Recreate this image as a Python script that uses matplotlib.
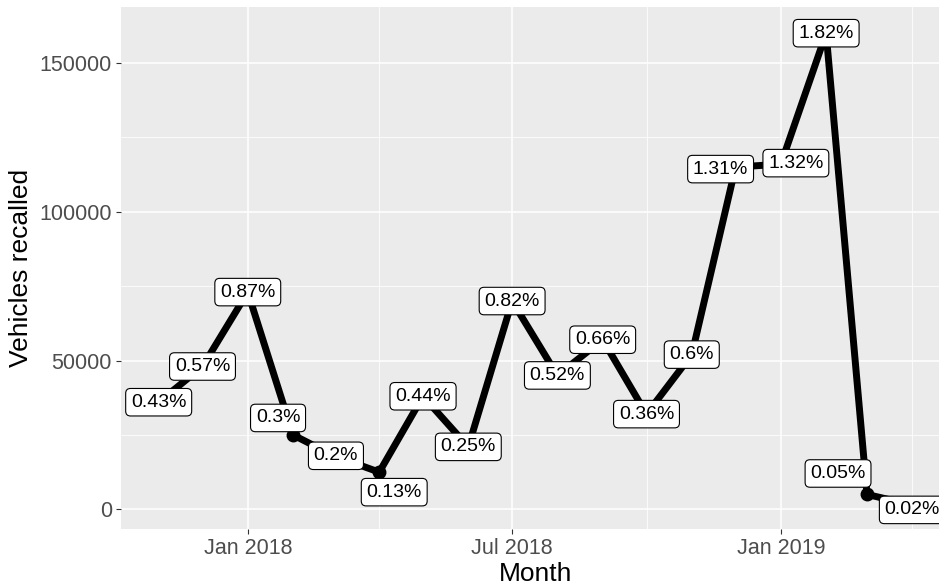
import datetime as dt
import matplotlib
matplotlib.use('Agg')
import matplotlib.pyplot as plt
import matplotlib.dates as mdates
import matplotlib.ticker as plticker

months = ['2017-11', '2017-12', '2018-01', '2018-02', '2018-03', '2018-04',
          '2018-05', '2018-06', '2018-07', '2018-08', '2018-09', '2018-10',
          '2018-11', '2018-12', '2019-01', '2019-02', '2019-03', '2019-04']
recalled = [36000, 48000, 73000, 25000, 18000, 12500,
            38000, 21000, 70000, 45000, 57000, 32000,
            52000, 115000, 116000, 160000, 5000, 1500]
pct_labels = ['0.43%', '0.57%', '0.87%', '0.3%', '0.2%', '0.13%',
              '0.44%', '0.25%', '0.82%', '0.52%', '0.66%', '0.36%',
              '0.6%', '1.31%', '1.32%', '1.82%', '0.05%', '0.02%']

# label nudges in pixels (where the labels got pushed off their point)
label_nudge = [(0, 0), (0, 0), (0, 0), (-15, 17), (2, 0), (15, -20),
               (0, 0), (0, 0), (0, 0), (0, 0), (0, 0), (0, 0),
               (0, 0), (-15, -2), (15, 1), (0, 0), (-29, 21), (0, -5)]

plt.rcParams['font.family'] = ['Liberation Sans', 'DejaVu Sans']

dates = [dt.datetime.strptime(m, '%Y-%m') for m in months]

W, H = 939, 587
fig = plt.figure(figsize=(W / 100, H / 100), dpi=100)
ax = fig.add_axes([121 / W, (H - 529) / H, (950 - 121) / W, (529 - 7) / H])
ax.set_facecolor('#EBEBEB')
for s in ax.spines.values():
    s.set_visible(False)

ax.plot(dates, recalled, color='black', linewidth=5, zorder=3, solid_capstyle='butt')
ax.plot(dates, recalled, 'o', color='black', markersize=9, zorder=3)

for d, v, lab, (dx, dy) in zip(dates, recalled, pct_labels, label_nudge):
    ax.annotate(lab, xy=(d, v), xytext=(dx, dy), textcoords='offset pixels',
                ha='center', va='center', fontsize=14, zorder=5,
                bbox=dict(boxstyle='round,pad=0.27,rounding_size=0.25',
                          fc='white', ec='black', lw=0.8))

ax.xaxis.set_major_locator(mdates.MonthLocator(bymonth=[1, 7]))
ax.xaxis.set_minor_locator(mdates.MonthLocator(bymonth=[4, 10]))
ax.xaxis.set_major_formatter(mdates.DateFormatter('%b %Y'))
ax.yaxis.set_major_locator(plticker.MultipleLocator(50000))
ax.yaxis.set_minor_locator(plticker.MultipleLocator(25000))
ax.yaxis.set_major_formatter(plticker.FuncFormatter(lambda v, p: '%d' % v))
ax.margins(x=0.05)
ax.set_ylim(-6600, 168800)

ax.grid(which='major', color='white', linewidth=1.1, zorder=0)
ax.grid(which='minor', color='white', linewidth=0.55, zorder=0)
ax.set_axisbelow(True)
ax.tick_params(which='major', length=3.5, width=0.8, color='#333333',
               labelsize=15.5, labelcolor='#4D4D4D', pad=3)
ax.tick_params(which='minor', length=0)

ax.set_xlabel('Month', fontsize=19, labelpad=2)
ax.set_ylabel('Vehicles recalled', fontsize=19, labelpad=5)

fig.savefig('out.png', dpi=100)
